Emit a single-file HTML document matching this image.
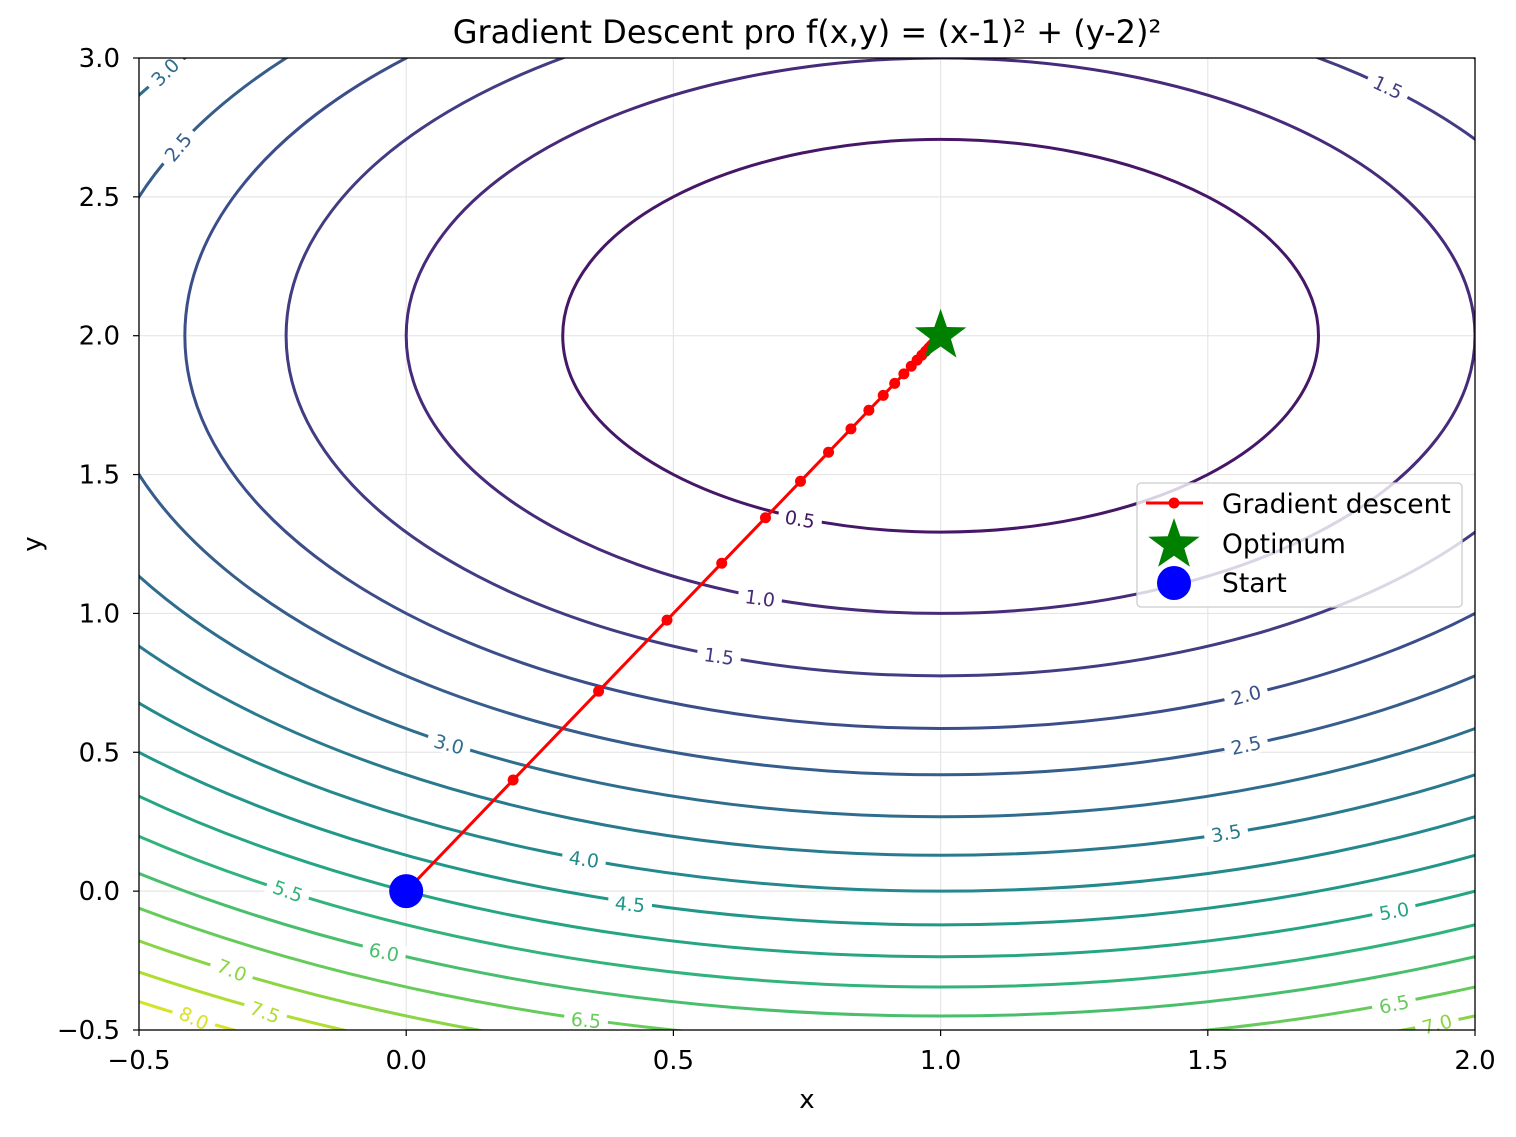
<!DOCTYPE html>
<html><head><meta charset="utf-8"><style>
body{margin:0;background:#fff}
svg text{font-family:"DejaVu Sans","Liberation Sans",sans-serif}
</style></head><body>
<svg id="s" width="1516" height="1132" xmlns="http://www.w3.org/2000/svg">
<defs><clipPath id="c"><rect x="139" y="58" width="1336" height="972"/></clipPath></defs>
<rect width="1516" height="1132" fill="#fff"/>
<g id="grid" stroke="#e6e6e6" stroke-width="1.2"></g>
<g id="cont" clip-path="url(#c)" fill="none" stroke-width="3"></g>
<g id="lab" font-size="19"></g>
<g id="path"></g>
<rect x="139" y="58" width="1336" height="972" fill="none" stroke="#000" stroke-width="1.3"/>
<g id="ticks" font-size="26"></g>
<text x="807" y="43" font-size="32" text-anchor="middle">Gradient Descent pro f(x,y) = (x-1)² + (y-2)²</text>
<text x="807" y="1108" font-size="26" text-anchor="middle">x</text>
<text x="41" y="544" font-size="26" text-anchor="middle" transform="rotate(-90 41 544)">y</text>
<g>
<rect x="1137" y="483" width="325" height="124" rx="4" fill="#fff" fill-opacity="0.8" stroke="#ccc" stroke-width="1.3"/>
<line x1="1146" y1="503" x2="1203" y2="503" stroke="red" stroke-width="3"/>
<circle cx="1174" cy="503" r="5.5" fill="red"/>
<polygon id="lstar" fill="green"/>
<circle cx="1174" cy="583" r="17" fill="blue"/>
<text x="1222" y="513" font-size="26.5">Gradient descent</text>
<text x="1222" y="553" font-size="26.5">Optimum</text>
<text x="1222" y="592" font-size="26.5">Start</text>
</g>
</svg>
<script>
const NS="http://www.w3.org/2000/svg";
const X=x=>139+(x+0.5)*534.4, Y=y=>58+(3-y)*277.71;
function el(p,t,a,txt){const e=document.createElementNS(NS,t);for(const k in a)e.setAttribute(k,a[k]);if(txt)e.textContent=txt;document.getElementById(p).appendChild(e);return e;}
const vir=[[68,1,84],[72,40,120],[62,74,137],[49,104,142],[38,130,142],[31,158,137],[53,183,121],[110,206,88],[181,222,43],[253,231,37]];
function vc(t){const p=t*9,i=Math.min(8,Math.floor(p)),f=p-i;const a=vir[i],b=vir[i+1];return `rgb(${a.map((v,k)=>Math.round(v+(b[k]-v)*f)).join(',')})`;}
[-0.5,0,0.5,1,1.5,2].forEach(v=>{el('grid','line',{x1:X(v),x2:X(v),y1:58,y2:1030});
 el('ticks','line',{x1:X(v),x2:X(v),y1:1030,y2:1036,stroke:'#000','stroke-width':1.2});
 el('ticks','text',{x:X(v),y:1069,'text-anchor':'middle'},v<0?'−0.5':v.toFixed(1));});
[-0.5,0,0.5,1,1.5,2,2.5,3].forEach(v=>{el('grid','line',{y1:Y(v),y2:Y(v),x1:139,x2:1475});
 el('ticks','line',{y1:Y(v),y2:Y(v),x1:133,x2:139,stroke:'#000','stroke-width':1.2});
 el('ticks','text',{x:120,y:Y(v)+9,'text-anchor':'end'},v<0?'−0.5':v.toFixed(1));});
const col={};
for(let i=1;i<=16;i++){const L=i*0.5,r=Math.sqrt(L);col[L.toFixed(1)]=vc(L/8.5);
 el('cont','ellipse',{cx:X(1),cy:Y(2),rx:r*534.4,ry:r*277.71,stroke:vc(L/8.5)});}
const labs=[["3.0",165,72,-45],["2.5",178,147,-50],["1.5",1388,87,25],["0.5",800,519,10],["1.0",760,598,8],["1.5",719,656,8],["2.0",1246,695,-15],["3.0",449,744,15],["2.5",1246,745,-12],["3.5",1226,833,-10],["4.0",584,859,8],["4.5",630,904,5],["5.5",288,891,20],["5.0",1394,911,-10],["6.0",384,952,12],["7.0",232,970,22],["7.5",265,1012,20],["8.0",194,1018,25],["6.5",586,1020,5],["6.5",1394,1004,-12],["7.0",1437,1024,-15]];
labs.forEach(([t,x,y,r])=>{const g=el('lab','g',{transform:`translate(${x} ${y}) rotate(${r})`});
 const rc=document.createElementNS(NS,'rect');Object.entries({x:-22,y:-10,width:44,height:20,fill:'#fff'}).forEach(([k,v])=>rc.setAttribute(k,v));g.appendChild(rc);
 const tx=document.createElementNS(NS,'text');Object.entries({x:0,y:7,'text-anchor':'middle',fill:col[t]}).forEach(([k,v])=>tx.setAttribute(k,v));tx.textContent=t;g.appendChild(tx);});
let pts=[];for(let k=0;k<=30;k++){const f=1-Math.pow(0.8,k);pts.push([X(f),Y(2*f)]);}
el('path','polyline',{points:pts.map(p=>p.join(',')).join(' '),fill:'none',stroke:'red','stroke-width':3});
pts.forEach(p=>el('path','circle',{cx:p[0],cy:p[1],r:5.5,fill:'red'}));
function star(cx,cy,R){let s=[];for(let i=0;i<10;i++){const r=i%2?R*0.4:R,a=-Math.PI/2+i*Math.PI/5;s.push((cx+r*Math.cos(a)).toFixed(1)+','+(cy+r*Math.sin(a)).toFixed(1));}return s.join(' ');}
el('path','polygon',{points:star(X(1),Y(2),27),fill:'green'});
el('path','circle',{cx:X(0),cy:Y(0),r:17,fill:'blue'});
document.getElementById('lstar').setAttribute('points',star(1174,545,27));
</script>
</body></html>
